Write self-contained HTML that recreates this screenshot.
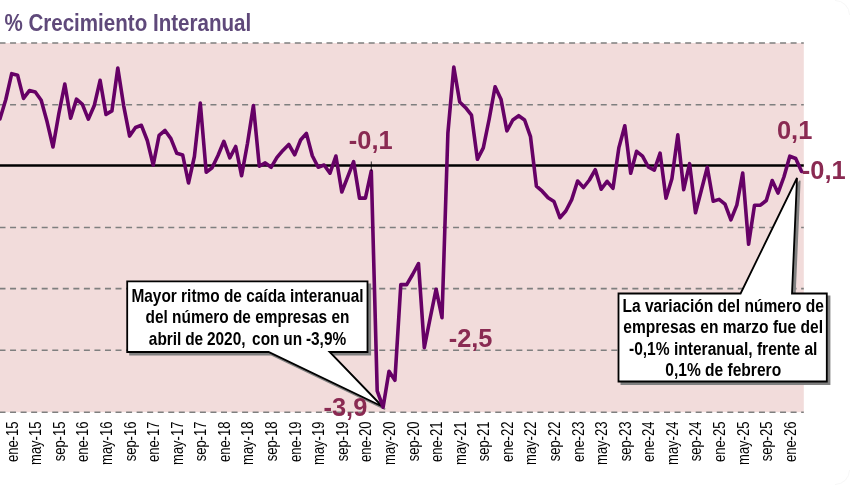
<!DOCTYPE html>
<html lang="es"><head><meta charset="utf-8"><title>% Crecimiento Interanual</title>
<style>
html,body{margin:0;padding:0;background:#fff;}
body{width:850px;height:485px;overflow:hidden;}
svg{display:block;font-family:"Liberation Sans",sans-serif;will-change:transform;opacity:0.999;}
</style></head><body>
<svg width="850" height="485" viewBox="0 0 850 485">
<defs><filter id="sh" x="-5%" y="-5%" width="115%" height="115%"><feGaussianBlur stdDeviation="0.7"/></filter></defs>
<rect x="0" y="0" width="850" height="485" fill="#fff"/>
<path d="M835,0.5 A14.5,14.5 0 0 1 849.5,15 M849.5,470 A14.5,14.5 0 0 1 835,484.5" fill="none" stroke="#f7f7f7" stroke-width="1"/>
<rect x="0" y="43" width="803.8" height="369.2" fill="#f2dcdb"/>
<line x1="-0.5" y1="43" x2="803.8" y2="43" stroke="#7f7f7f" stroke-width="1.6" stroke-dasharray="6 4.548"/>
<line x1="-0.5" y1="104.7" x2="803.8" y2="104.7" stroke="#7f7f7f" stroke-width="1.6" stroke-dasharray="6 4.548"/>
<line x1="-0.5" y1="227.5" x2="803.8" y2="227.5" stroke="#7f7f7f" stroke-width="1.6" stroke-dasharray="6 4.548"/>
<line x1="-0.5" y1="288.6" x2="803.8" y2="288.6" stroke="#7f7f7f" stroke-width="1.6" stroke-dasharray="6 4.548"/>
<line x1="-0.5" y1="350.2" x2="803.8" y2="350.2" stroke="#7f7f7f" stroke-width="1.6" stroke-dasharray="6 4.548"/>
<line x1="-0.5" y1="412.2" x2="803.8" y2="412.2" stroke="#7f7f7f" stroke-width="1.6" stroke-dasharray="6 4.548"/>
<line x1="0" y1="165.5" x2="803.8" y2="165.5" stroke="#000" stroke-width="2.5"/>
<text transform="translate(4.4,31.2) scale(0.83,1)" font-size="24.8" font-weight="bold" text-anchor="start" fill="#5f497a">% Crecimiento Interanual</text>
<text transform="translate(17.6,421.6) rotate(-90) scale(0.765,1)" font-size="17" text-anchor="end" fill="#000">ene-15</text>
<text transform="translate(41.2,421.6) rotate(-90) scale(0.765,1)" font-size="17" text-anchor="end" fill="#000">may-15</text>
<text transform="translate(64.8,421.6) rotate(-90) scale(0.765,1)" font-size="17" text-anchor="end" fill="#000">sep-15</text>
<text transform="translate(88.3,421.6) rotate(-90) scale(0.765,1)" font-size="17" text-anchor="end" fill="#000">ene-16</text>
<text transform="translate(111.9,421.6) rotate(-90) scale(0.765,1)" font-size="17" text-anchor="end" fill="#000">may-16</text>
<text transform="translate(135.5,421.6) rotate(-90) scale(0.765,1)" font-size="17" text-anchor="end" fill="#000">sep-16</text>
<text transform="translate(159.1,421.6) rotate(-90) scale(0.765,1)" font-size="17" text-anchor="end" fill="#000">ene-17</text>
<text transform="translate(182.7,421.6) rotate(-90) scale(0.765,1)" font-size="17" text-anchor="end" fill="#000">may-17</text>
<text transform="translate(206.2,421.6) rotate(-90) scale(0.765,1)" font-size="17" text-anchor="end" fill="#000">sep-17</text>
<text transform="translate(229.8,421.6) rotate(-90) scale(0.765,1)" font-size="17" text-anchor="end" fill="#000">ene-18</text>
<text transform="translate(253.4,421.6) rotate(-90) scale(0.765,1)" font-size="17" text-anchor="end" fill="#000">may-18</text>
<text transform="translate(277.0,421.6) rotate(-90) scale(0.765,1)" font-size="17" text-anchor="end" fill="#000">sep-18</text>
<text transform="translate(300.6,421.6) rotate(-90) scale(0.765,1)" font-size="17" text-anchor="end" fill="#000">ene-19</text>
<text transform="translate(324.1,421.6) rotate(-90) scale(0.765,1)" font-size="17" text-anchor="end" fill="#000">may-19</text>
<text transform="translate(347.7,421.6) rotate(-90) scale(0.765,1)" font-size="17" text-anchor="end" fill="#000">sep-19</text>
<text transform="translate(371.3,421.6) rotate(-90) scale(0.765,1)" font-size="17" text-anchor="end" fill="#000">ene-20</text>
<text transform="translate(394.9,421.6) rotate(-90) scale(0.765,1)" font-size="17" text-anchor="end" fill="#000">may-20</text>
<text transform="translate(418.5,421.6) rotate(-90) scale(0.765,1)" font-size="17" text-anchor="end" fill="#000">sep-20</text>
<text transform="translate(442.0,421.6) rotate(-90) scale(0.765,1)" font-size="17" text-anchor="end" fill="#000">ene-21</text>
<text transform="translate(465.6,421.6) rotate(-90) scale(0.765,1)" font-size="17" text-anchor="end" fill="#000">may-21</text>
<text transform="translate(489.2,421.6) rotate(-90) scale(0.765,1)" font-size="17" text-anchor="end" fill="#000">sep-21</text>
<text transform="translate(512.8,421.6) rotate(-90) scale(0.765,1)" font-size="17" text-anchor="end" fill="#000">ene-22</text>
<text transform="translate(536.4,421.6) rotate(-90) scale(0.765,1)" font-size="17" text-anchor="end" fill="#000">may-22</text>
<text transform="translate(559.9,421.6) rotate(-90) scale(0.765,1)" font-size="17" text-anchor="end" fill="#000">sep-22</text>
<text transform="translate(583.5,421.6) rotate(-90) scale(0.765,1)" font-size="17" text-anchor="end" fill="#000">ene-23</text>
<text transform="translate(607.1,421.6) rotate(-90) scale(0.765,1)" font-size="17" text-anchor="end" fill="#000">may-23</text>
<text transform="translate(630.7,421.6) rotate(-90) scale(0.765,1)" font-size="17" text-anchor="end" fill="#000">sep-23</text>
<text transform="translate(654.3,421.6) rotate(-90) scale(0.765,1)" font-size="17" text-anchor="end" fill="#000">ene-24</text>
<text transform="translate(677.8,421.6) rotate(-90) scale(0.765,1)" font-size="17" text-anchor="end" fill="#000">may-24</text>
<text transform="translate(701.4,421.6) rotate(-90) scale(0.765,1)" font-size="17" text-anchor="end" fill="#000">sep-24</text>
<text transform="translate(725.0,421.6) rotate(-90) scale(0.765,1)" font-size="17" text-anchor="end" fill="#000">ene-25</text>
<text transform="translate(748.6,421.6) rotate(-90) scale(0.765,1)" font-size="17" text-anchor="end" fill="#000">may-25</text>
<text transform="translate(772.2,421.6) rotate(-90) scale(0.765,1)" font-size="17" text-anchor="end" fill="#000">sep-25</text>
<text transform="translate(795.7,421.6) rotate(-90) scale(0.765,1)" font-size="17" text-anchor="end" fill="#000">ene-26</text>
<path d="M127.2,281.4 H367.5 V352 H329.6 L382.3,406.5 L268.6,352 H127.2 Z" transform="translate(2.8,2.8)" fill="#808080" stroke="#808080" stroke-width="1.6" filter="url(#sh)"/>
<path d="M127.2,281.4 H367.5 V352 H329.6 L382.3,406.5 L268.6,352 H127.2 Z" fill="#fff" stroke="#000" stroke-width="1.8" stroke-linejoin="miter"/>
<path d="M618.5,293.5 H740.6 L797,178 L792,293.5 H826.8 V381.5 H618.5 Z" transform="translate(2.8,2.8)" fill="#808080" stroke="#808080" stroke-width="1.6" filter="url(#sh)"/>
<path d="M618.5,293.5 H740.6 L797,178 L792,293.5 H826.8 V381.5 H618.5 Z" fill="#fff" stroke="#000" stroke-width="1.8" stroke-linejoin="miter"/>
<polyline points="-0.1,119.0 5.8,99.5 11.7,73.7 17.6,75.3 23.5,98.4 29.4,90.6 35.3,92.0 41.2,100.2 47.1,121.8 53.0,147.0 58.9,113.4 64.8,84.0 70.6,118.2 76.5,99.1 82.4,104.3 88.3,119.2 94.2,105.8 100.1,80.3 106.0,114.4 111.9,110.9 117.8,68.0 123.7,105.8 129.6,136.1 135.5,127.5 141.4,125.3 147.3,140.5 153.2,165.1 159.1,135.4 165.0,130.5 170.9,138.6 176.8,153.3 182.7,155.0 188.5,183.0 194.4,156.5 200.3,103.1 206.2,172.2 212.1,167.8 218.0,155.5 223.9,141.3 229.8,157.9 235.7,146.5 241.6,175.8 247.5,143.3 253.4,105.5 259.3,166.2 265.2,162.9 271.1,167.3 277.0,157.4 282.9,150.4 288.8,144.5 294.7,154.8 300.6,140.0 306.4,133.4 312.3,155.7 318.2,167.2 324.1,165.0 330.0,173.2 335.9,156.0 341.8,192.0 347.7,176.8 353.6,161.6 359.5,198.1 365.4,198.1 371.3,171.0 377.2,390.9 383.1,407.2 389.0,371.3 394.9,380.3 400.8,284.6 406.7,284.6 412.6,274.5 418.5,263.7 424.3,347.7 430.2,318.0 436.1,289.2 442.0,317.7 447.9,133.0 453.8,67.1 459.7,102.0 465.6,107.7 471.5,115.2 477.4,159.3 483.3,147.9 489.2,119.0 495.1,86.8 501.0,99.2 506.9,131.0 512.8,120.0 518.7,115.7 524.6,120.0 530.5,136.7 536.4,186.1 542.2,191.2 548.1,197.8 554.0,201.5 559.9,217.7 565.8,211.0 571.7,199.6 577.6,181.0 583.5,187.5 589.4,180.0 595.3,169.7 601.2,189.2 607.1,181.3 613.0,188.3 618.9,147.6 624.8,125.8 630.7,173.2 636.6,151.3 642.5,156.1 648.4,167.0 654.3,170.2 660.1,153.2 666.0,198.2 671.9,178.7 677.8,134.9 683.7,189.7 689.6,163.7 695.5,212.8 701.4,190.0 707.3,167.3 713.2,201.2 719.1,199.4 725.0,204.2 730.9,219.8 736.8,205.2 742.7,173.0 748.6,244.3 754.5,205.2 760.4,205.2 766.3,200.5 772.2,180.6 778.0,193.1 783.9,177.0 789.8,156.2 795.7,158.5 801.6,171.5" fill="none" stroke="#660066" stroke-width="3.6" stroke-linejoin="round" stroke-linecap="round"/>
<line x1="371.3" y1="161.5" x2="371.3" y2="171" stroke="#000" stroke-width="0.8"/>
<text transform="translate(247.5,301.6) scale(0.82,1)" font-size="18.8" font-weight="bold" text-anchor="middle" fill="#000">Mayor ritmo de caída interanual</text>
<text transform="translate(247.5,323.1) scale(0.82,1)" font-size="18.8" font-weight="bold" text-anchor="middle" fill="#000">del número de empresas en</text>
<text transform="translate(247.5,344.6) scale(0.82,1)" font-size="18.8" font-weight="bold" text-anchor="middle" fill="#000"><tspan word-spacing="-0.6">abril de 2020, <tspan dx="3.4">con</tspan> un -3,9%</tspan></text>
<text transform="translate(723.2,311.5) scale(0.828,1)" font-size="18.8" font-weight="bold" text-anchor="middle" fill="#000">La variación del número de</text>
<text transform="translate(723.2,333.05) scale(0.828,1)" font-size="18.8" font-weight="bold" text-anchor="middle" fill="#000">empresas en marzo fue del</text>
<text transform="translate(723.2,354.6) scale(0.828,1)" font-size="18.8" font-weight="bold" text-anchor="middle" fill="#000">-0,1% interanual, frente al</text>
<text transform="translate(723.2,376.15) scale(0.828,1)" font-size="18.8" font-weight="bold" text-anchor="middle" fill="#000">0,1% de febrero</text>
<text transform="translate(348.8,149.4) scale(1.0,1)" font-size="25.4" font-weight="bold" text-anchor="start" fill="#8a2a52">-0,1</text>
<text transform="translate(323.5,415.9) scale(1.0,1)" font-size="25.4" font-weight="bold" text-anchor="start" fill="#8a2a52">-3,9</text>
<text transform="translate(448.7,347.4) scale(1.0,1)" font-size="25.4" font-weight="bold" text-anchor="start" fill="#8a2a52">-2,5</text>
<text transform="translate(777.0,138.9) scale(1.0,1)" font-size="25.4" font-weight="bold" text-anchor="start" fill="#8a2a52">0,1</text>
<text transform="translate(801.8,179.0) scale(1.0,1)" font-size="25.4" font-weight="bold" text-anchor="start" fill="#8a2a52">-0,1</text>
</svg>
</body></html>
